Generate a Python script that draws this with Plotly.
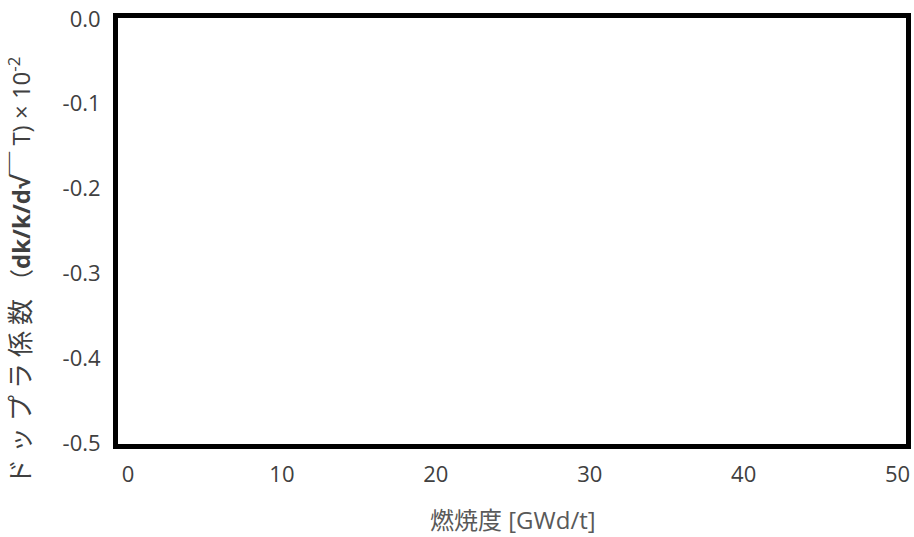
import plotly.graph_objects as go

x_ticks = [0, 10, 20, 30, 40, 50]
y_ticks = [0.0, -0.1, -0.2, -0.3, -0.4, -0.5]
y_tick_text = ["0.0", "-0.1", "-0.2", "-0.3", "-0.4", "-0.5"]
x_title = "燃焼度 [GWd/t]"
y_title = ('<span style="font-size:26px;letter-spacing:6px">ドップラ係数</span>'
           '（<b>dk/k/d√￣</b> T) × 10<sup>-2</sup>')

fig = go.Figure()
fig.add_trace(go.Scatter(x=[], y=[], mode="lines", showlegend=False))

tick_font = dict(family="Open Sans, Noto Sans CJK JP, sans-serif", size=22, color="#404040")
xtitle_font = dict(family="Open Sans, Noto Sans CJK JP, sans-serif", size=24, color="#595959")
ytitle_font = dict(family="Open Sans, Noto Sans CJK JP, sans-serif", size=24, color="#404040")

FW, FH = 914, 537
L, R, T, B = 118, 8, 18, 93
W = FW - L - R
H = FH - T - B
BOT = FH - B

fig.update_layout(
    width=FW, height=FH,
    margin=dict(l=L, r=R, t=T, b=B, autoexpand=False),
    paper_bgcolor="white", plot_bgcolor="white",
    showlegend=False,
    xaxis=dict(
        range=[-0.65, 50.55], tickvals=x_ticks, ticktext=[str(v) for v in x_ticks],
        showgrid=False, zeroline=False, showline=True, mirror=True, automargin=False,
        linecolor="black", linewidth=5, ticks="", tickfont=tick_font,
        ticklabelstandoff=7, ticklabeloverflow="allow",
    ),
    yaxis=dict(
        range=[-0.501, 0.001], tickvals=y_ticks, ticktext=y_tick_text,
        showgrid=False, zeroline=False, showline=True, mirror=True, automargin=False,
        linecolor="black", linewidth=5, ticks="", tickfont=tick_font,
        ticklabelstandoff=8, ticklabeloverflow="allow",
    ),
    annotations=[
        dict(text=x_title, xref="paper", yref="paper", x=(513 - L) / W,
             y=-(519 - BOT) / H, xanchor="center", yanchor="middle",
             showarrow=False, font=xtitle_font),
        dict(text=y_title, xref="paper", yref="paper", x=(20 - L) / W,
             y=(BOT - 271) / H, xanchor="center", yanchor="middle",
             textangle=-90, showarrow=False, font=ytitle_font),
    ],
)

fig.write_html("out.html", config={"displayModeBar": False},
               post_script="document.body.style.margin='0';")
